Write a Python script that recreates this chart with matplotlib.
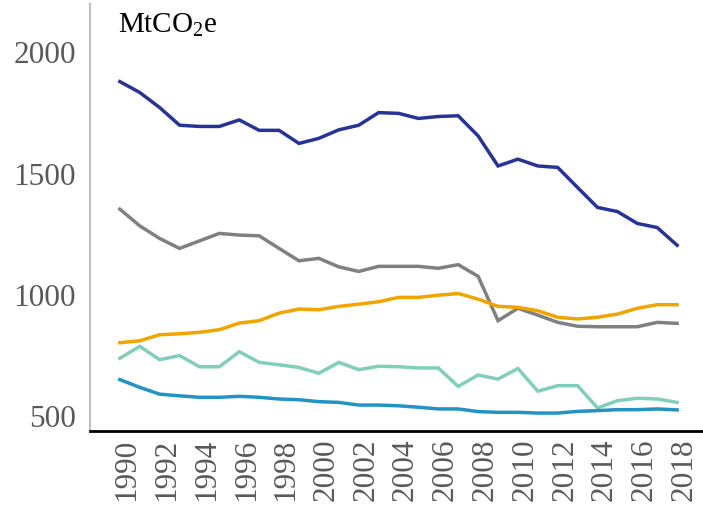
import numpy as np
import matplotlib.pyplot as plt
import matplotlib.transforms as mtransforms

plt.rcParams['font.family'] = ['Liberation Serif', 'DejaVu Serif']
plt.rcParams['mathtext.fontset'] = 'custom'
plt.rcParams['mathtext.rm'] = 'Liberation Serif'

years = np.arange(1990, 2019)

# MtCO2e
navy = [1875, 1830, 1768, 1695, 1690, 1690, 1717, 1674, 1674, 1620,
        1641, 1676, 1695, 1747, 1744, 1723, 1731, 1734, 1651, 1527,
        1555, 1527, 1521, 1438, 1356, 1339, 1290, 1273, 1200]
grey = [1349, 1280, 1228, 1187, 1218, 1249, 1242, 1239, 1187, 1136,
        1146, 1111, 1092, 1113, 1113, 1113, 1105, 1120, 1072, 889,
        940, 912, 882, 866, 864, 864, 864, 882, 878]
orange = [798, 806, 831, 835, 841, 852, 879, 889, 920, 937,
          934, 948, 957, 967, 985, 985, 994, 1001, 978, 948,
          944, 930, 903, 896, 903, 916, 940, 955, 955]
teal = [734, 783, 728, 745, 699, 699, 761, 717, 707, 696,
        672, 717, 687, 701, 699, 694, 694, 618, 665, 648,
        692, 598, 621, 621, 529, 559, 569, 566, 552]
blue = [646, 614, 586, 579, 573, 573, 577, 573, 566, 563,
        555, 552, 541, 541, 538, 532, 525, 525, 514, 511,
        511, 508, 508, 515, 518, 522, 522, 525, 521]

series = [(navy, '#26349a'), (grey, '#808080'), (orange, '#f0a500'),
          (teal, '#80cfbb'), (blue, '#2193c6')]

fig = plt.figure(figsize=(7.03, 5.10), dpi=100)
ax = fig.add_axes([90 / 703, 78 / 510, 1 - 90 / 703, 1 - 78 / 510 - 5 / 510])

for vals, col in series:
    ax.plot(years, vals, color=col, lw=2.5, solid_joinstyle='miter')

ax.set_xlim(1988.5, 2019.3)
ax.set_ylim(434, 2195)
ax.set_yticks([500, 1000, 1500, 2000])
ax.set_xticks(np.arange(1990, 2019, 2))
ax.tick_params(axis='both', length=0, labelsize=22.5, labelcolor='#595959')
ax.tick_params(axis='y', pad=10)
ax.tick_params(axis='x', pad=5)
for lab in ax.get_xticklabels():
    lab.set_rotation(90)
    lab.set_transform(lab.get_transform() +
                      mtransforms.ScaledTranslation(7 / 100, 0, fig.dpi_scale_trans))

for s in ['top', 'right']:
    ax.spines[s].set_visible(False)
ax.spines['left'].set_color('#bfbfbf')
ax.spines['left'].set_linewidth(1.5)
ax.spines['bottom'].set_color('black')
ax.spines['bottom'].set_linewidth(2)

ax.text(118, 510 - 25, r'MtCO$_2$e', transform=mtransforms.IdentityTransform(),
        fontsize=21, color='black', va='center', ha='left')

fig.savefig('out.png', dpi=100)
